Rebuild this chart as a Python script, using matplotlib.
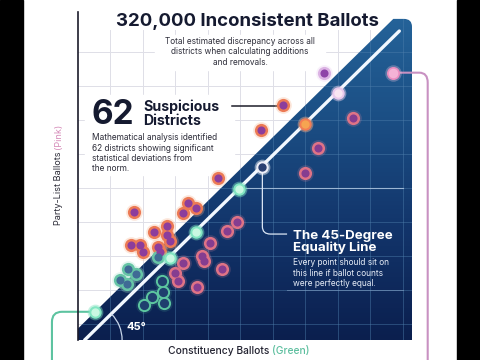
import numpy as np
import matplotlib
matplotlib.use("Agg")
import matplotlib.pyplot as plt
from matplotlib.patches import Rectangle, PathPatch, Arc
from matplotlib.path import Path
from matplotlib.colors import LinearSegmentedColormap

plt.rcParams['font.family'] = ['Inter', 'DejaVu Sans']

# ---- data (index units, 0-100: constituency ballots on x, party-list ballots on y)
pink_high_x = [61.5, 54.9, 41.8, 32.9, 35.4, 31.4, 16.8, 26.6, 22.8, 26.6, 27.5, 15.9, 18.6, 19.6, 24.0, 24.6]
pink_high_y = [71.5, 63.9, 49.3, 41.9, 40.2, 38.6, 38.9, 34.8, 32.9, 32.0, 30.2, 29.0, 29.0, 26.7, 28.4, 26.9]
purple_high_x = [73.7]
purple_high_y = [81.5]
green_high_x = [15.1, 17.4, 12.7, 14.8, 24.0]
green_high_y = [21.5, 20.0, 18.3, 17.0, 25.4]
pink_low_x = [82.4, 71.9, 68.1, 47.6, 44.6, 39.5, 37.0, 37.8, 31.5, 43.1, 29.0, 30.0, 35.5]
pink_low_y = [67.8, 58.5, 50.8, 36.0, 33.2, 29.5, 25.6, 24.2, 23.4, 21.5, 20.5, 18.1, 16.3]
green_low_x = [25.0, 25.5, 22.1, 19.8, 25.8]
green_low_y = [18.1, 14.7, 13.2, 10.7, 11.4]
line_x = [5.0, 27.4, 35.3, 48.2, 55.2, 68.0, 77.7]
line_y = [8.6, 25.1, 33.0, 45.9, 52.8, 65.8, 75.2]
line_kind = ['green', 'green', 'green', 'green', 'white', 'orange', 'lilac']
outlier_x = [94.2]
outlier_y = [81.5]

title = "320,000 Inconsistent Ballots"
subtitle = "Total estimated discrepancy across all\ndistricts when calculating additions\nand removals."
big_num = "62"
big_lbl = "Suspicious\nDistricts"
big_body = "Mathematical analysis identified\n62 districts showing significant\nstatistical deviations from\nthe norm."
eq_title = "The 45-Degree\nEquality Line"
eq_body = "Every point should sit on\nthis line if ballot counts\nwere perfectly equal."

# ---- figure
fig = plt.figure(figsize=(4.8, 3.6), dpi=100)
fig.patch.set_facecolor('white')
fig.add_artist(Rectangle((0, 0), 23/480, 1, transform=fig.transFigure, color='black', zorder=0))
fig.add_artist(Rectangle((457/480, 0), 23/480, 1, transform=fig.transFigure, color='black', zorder=0))

ax = fig.add_axes([78/480, 20/360, 334/480, 328/360])
ax.set_xlim(0, 100)
ax.set_ylim(0, 100)
ax.axis('off')

xgrid = np.arange(1, 11) * 9.73
ygrid = 4.9 + np.arange(0, 9) * 10.37

for gx in xgrid:
    ax.plot([gx, gx], [0, 94.5], color='#dfdfe7', lw=0.7, zorder=1)
for gy in ygrid:
    ax.plot([0, 100], [gy, gy], color='#dfdfe7', lw=0.7, zorder=1)

# white masks behind text blocks
ax.add_patch(Rectangle((23.1, 82.3), 50.9, 10.7, color='white', zorder=1.5))
ax.add_patch(Rectangle((2.1, 50.3), 44.5, 24.4, color='white', zorder=1.5))

# dark triangle region with gradient
verts = [(0, 0), (0, 3.5), (94.4, 97.9), (97.6, 97.9), (100, 97.9), (100, 95.5), (100, 0), (0, 0)]
codes = [Path.MOVETO, Path.LINETO, Path.LINETO, Path.LINETO, Path.CURVE3, Path.CURVE3, Path.LINETO, Path.CLOSEPOLY]
tri = PathPatch(Path(verts, codes), transform=ax.transData, fc='none', ec='none', zorder=2)
ax.add_patch(tri)
cmap = LinearSegmentedColormap.from_list('bl', ['#0b1f4e', '#12346a', '#1b4e84', '#25649a'])
grad = np.linspace(0, 1, 256)[:, None] * np.ones((1, 2))
im = ax.imshow(grad, extent=[0, 100, 0, 100], origin='lower', cmap=cmap, aspect='auto', zorder=2)
im.set_clip_path(tri)

for gx in xgrid:
    l, = ax.plot([gx, gx], [0, 98], color='#4f80ad', lw=0.7, alpha=0.45, zorder=2.5)
    l.set_clip_path(tri)
for gy in ygrid:
    l, = ax.plot([0, 100], [gy, gy], color='#4f80ad', lw=0.7, alpha=0.45, zorder=2.5)
    l.set_clip_path(tri)
ax.plot([50.3, 97.3], [46.3, 46.3], color='#b7cde6', lw=0.8, alpha=0.8, zorder=2.6)
ax.plot([62.6, 97.3], [15.2, 15.2], color='#7f9fc4', lw=0.7, alpha=0.6, zorder=2.6)

# equality line and angle arc
ax.plot([2, 96.2], [0, 94.2], color='#f2f8ff', lw=2.4, solid_capstyle='round', zorder=4)
ax.add_patch(Arc((2.1, 0), 22.2, 22.6, theta1=0, theta2=45, color='#c8d6ea', lw=0.9, zorder=4))
ax.text(14.4, 4.0, "45°", color='white', fontsize=8, fontweight='bold', ha='left', va='center', zorder=6)

# connectors
def conn(pts, codes, color, lw):
    p = PathPatch(Path(pts, codes), fc='none', ec=color, lw=lw, zorder=3, clip_on=False)
    ax.add_patch(p)

conn([(55.2, 52.8), (55.2, 34.6), (55.2, 32.3), (57.6, 32.3), (62.6, 32.3)],
     [Path.MOVETO, Path.LINETO, Path.CURVE3, Path.CURVE3, Path.LINETO], '#dbe6f5', 0.9)
conn([(5.0, 8.6), (-4.8, 8.6), (-7.8, 8.6), (-7.8, 5.5), (-7.8, -7)],
     [Path.MOVETO, Path.LINETO, Path.CURVE3, Path.CURVE3, Path.LINETO], '#5dc3a0', 1.5)
conn([(94.2, 81.5), (102.2, 81.5), (104.7, 81.5), (104.7, 78.5), (104.7, -7)],
     [Path.MOVETO, Path.LINETO, Path.CURVE3, Path.CURVE3, Path.LINETO], '#c891c2', 1.5)
ax.plot([46.1, 61.0], [71.2, 71.2], color='#1e1e2a', lw=1.1, zorder=3)

# scatter points
def dots(x, y, ring, core, halo, s_ring=90, s_core=34, z=5, halo_alpha=0.3):
    ax.scatter(x, y, s=s_ring * 1.6, c=halo, alpha=halo_alpha, lw=0, zorder=z)
    ax.scatter(x, y, s=s_ring, c=ring, lw=0, zorder=z + 0.1)
    ax.scatter(x, y, s=s_core, c=core, lw=0, zorder=z + 0.2)

dots(pink_high_x, pink_high_y, '#ec7a55', '#8c3d9c', '#f6b08a')
dots(purple_high_x, purple_high_y, '#dcb4e4', '#8e43a8', '#e8cdf0')
dots(green_high_x, green_high_y, '#66c5a6', '#3f6b95', '#a8e2cf')
dots(pink_low_x, pink_low_y, '#df7386', '#853d90', '#e58aa0', halo_alpha=0.2)
dots(green_low_x, green_low_y, '#5cc6a0', '#1f3f6e', '#5cc6a0', s_core=44, halo_alpha=0.15)

kind_style = {
    'green': ('#82e6c2', '#c9f8e2', '#7fe3bf'),
    'white': ('#eceef8', '#2a4072', '#ffffff'),
    'orange': ('#f27d55', '#f6a451', '#f6b08a'),
    'lilac': ('#e9c9ec', '#f9e6f2', '#f3d8f0'),
}
for kx, ky, kk in zip(line_x, line_y, line_kind):
    r, c, h = kind_style[kk]
    dots([kx], [ky], r, c, h, s_ring=80, s_core=36, z=6, halo_alpha=0.45)
dots(outlier_x, outlier_y, '#e98cbf', '#f4b3d6', '#f6c9e0', s_ring=88, s_core=48, z=6)

# texts
ax.text(50.6, 97.3, title, ha='center', va='center', fontsize=13.4, fontweight='bold', color='#151a30', zorder=7)
ax.text(48.5, 87.9, subtitle, ha='center', va='center', fontsize=6.0, color='#2e2e3a',
        linespacing=1.2, zorder=7)
ax.text(4.0, 68.6, big_num, ha='left', va='center', fontsize=24, fontweight='bold', color='#151a30', zorder=7)
ax.text(19.5, 68.9, big_lbl, ha='left', va='center', fontsize=10.2, fontweight='bold', color='#151a30',
        linespacing=1.0, zorder=7)
ax.text(4.2, 56.9, big_body, ha='left', va='center', fontsize=6.0, color='#2b2b38', linespacing=1.2, zorder=7)
ax.text(64.3, 29.9, eq_title, ha='left', va='center', fontsize=9.6, fontweight='bold', color='white',
        linespacing=1.0, zorder=7)
ax.text(64.3, 20.4, eq_body, ha='left', va='center', fontsize=6.0, color='#e8eef8', linespacing=1.2, zorder=7)

# axis labels (two-colour)
xl = ax.text(27.0, -3.5, "Constituency Ballots ", fontsize=7.4, fontweight='medium', color='#222230',
             ha='left', va='center')
ax.annotate("(Green)", xy=(1, 0.5), xycoords=xl, ha='left', va='center', fontsize=7.4,
            fontweight='medium', color='#5dbf9f')
yl = ax.text(-5.7, 35.1, "Party-List Ballots ", fontsize=6.6, color='#2a2a36', rotation=90,
             ha='center', va='bottom')
ax.annotate("(Pink)", xy=(0.5, 1), xycoords=yl, ha='center', va='bottom', fontsize=6.6,
            color='#d58ab8', rotation=90)

# left spine
ax.plot([0, 0], [0, 100], color='#1b1b2b', lw=1.2, clip_on=False, zorder=8)

fig.savefig('out.png', dpi=100)
